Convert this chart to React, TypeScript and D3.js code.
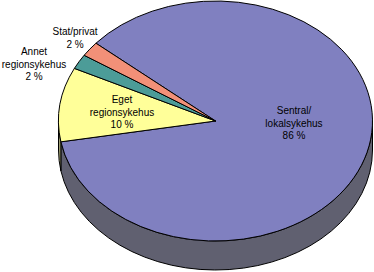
import React from "react";
import * as d3 from "d3";

const categories = ["Sentral/lokalsykehus", "Eget regionsykehus", "Annet regionsykehus", "Stat/privat"];
const values = [86, 10, 2, 2];
const labelLines = [
  ["Sentral/", "lokalsykehus", "86 %"],
  ["Eget", "regionsykehus", "10 %"],
  ["Annet", "regionsykehus", "2 %"],
  ["Stat/privat", "2 %"],
];
const topColors = ["#8080C0", "#FFFF99", "#4C9C98", "#F29078"];
const sideColors = ["#606070", "#9C9C70", "#3A6E6C", "#A86858"];
const labelPos: [number, number][] = [
  [294, 114],
  [122, 103],
  [34, 55],
  [75, 35],
];

const W = 374, H = 272;
const cx = 215.5, cy = 121, rx = 157, ry = 120, depth = 29;
const startDeg = 220.4; // parametric angle, y-down, from +x

function pt(t: number, dy = 0): [number, number] {
  return [cx + rx * Math.cos(t), cy + ry * Math.sin(t) + dy];
}

export default function App() {
  const pie = d3
    .pie<number>()
    .sort(null)
    .value((d) => d)
    .startAngle((startDeg * Math.PI) / 180)
    .endAngle((startDeg * Math.PI) / 180 + 2 * Math.PI);
  const arcs = pie(values);

  const topPath = (t0: number, t1: number) => {
    const p0 = pt(t0), p1 = pt(t1);
    const large = t1 - t0 > Math.PI ? 1 : 0;
    return `M${cx},${cy}L${p0[0]},${p0[1]}A${rx},${ry} 0 ${large} 1 ${p1[0]},${p1[1]}Z`;
  };

  const sides: { d: string; color: string }[] = [];
  arcs.forEach((a, i) => {
    for (let k = 0; k < 3; k++) {
      const lo = Math.max(a.startAngle, 2 * Math.PI * k);
      const hi = Math.min(a.endAngle, 2 * Math.PI * k + Math.PI);
      if (hi > lo) {
        const p0 = pt(lo), p1 = pt(hi), q1 = pt(hi, depth), q0 = pt(lo, depth);
        const large = hi - lo > Math.PI ? 1 : 0;
        sides.push({
          d: `M${p0[0]},${p0[1]}A${rx},${ry} 0 ${large} 1 ${p1[0]},${p1[1]}L${q1[0]},${q1[1]}A${rx},${ry} 0 ${large} 0 ${q0[0]},${q0[1]}Z`,
          color: sideColors[i],
        });
      }
    }
  });

  return (
    <svg
      width={W}
      height={H}
      style={{ position: "absolute", left: 0, top: 0, display: "block", background: "#fff" }}
    >
      {sides.map((s, i) => (
        <path key={"s" + i} d={s.d} fill={s.color} stroke="#000" strokeWidth={1} strokeLinejoin="round" />
      ))}
      {arcs.map((a, i) => (
        <path
          key={categories[i]}
          d={topPath(a.startAngle, a.endAngle)}
          fill={topColors[i]}
          stroke="#000"
          strokeWidth={1}
          strokeLinejoin="round"
        />
      ))}
      {labelLines.map((lines, i) => (
        <text
          key={"l" + i}
          x={labelPos[i][0]}
          y={labelPos[i][1]}
          textAnchor="middle"
          fontFamily="'Liberation Sans', Arial, sans-serif"
          fontSize={10}
          fill="#000"
        >
          {lines.map((ln, j) => (
            <tspan key={j} x={labelPos[i][0]} dy={j === 0 ? 0 : 12.5}>
              {ln}
            </tspan>
          ))}
        </text>
      ))}
    </svg>
  );
}
